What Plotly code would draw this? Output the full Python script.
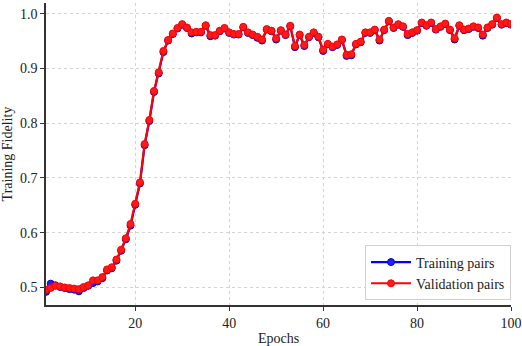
import plotly.graph_objects as go

epochs = list(range(1, 101))

validation = [
    0.496, 0.499, 0.503, 0.502, 0.500, 0.499, 0.498, 0.497, 0.501, 0.504,
    0.513, 0.513, 0.519, 0.533, 0.537, 0.551, 0.569, 0.590, 0.616, 0.653,
    0.692, 0.762, 0.806, 0.859, 0.893, 0.932, 0.952, 0.964, 0.974, 0.981,
    0.975, 0.966, 0.967, 0.967, 0.979, 0.961, 0.961, 0.969, 0.974, 0.966,
    0.963, 0.963, 0.976, 0.966, 0.962, 0.958, 0.953, 0.972, 0.969, 0.955,
    0.970, 0.962, 0.978, 0.941, 0.962, 0.943, 0.958, 0.966, 0.958, 0.934,
    0.945, 0.940, 0.944, 0.953, 0.925, 0.926, 0.945, 0.949, 0.966, 0.966,
    0.971, 0.953, 0.971, 0.987, 0.975, 0.981, 0.977, 0.963, 0.966, 0.970,
    0.984, 0.979, 0.984, 0.972, 0.977, 0.982, 0.971, 0.955, 0.979, 0.971,
    0.973, 0.977, 0.975, 0.962, 0.975, 0.981, 0.993, 0.981, 0.984, 0.981,
]

training = [
    0.492, 0.507, 0.504, 0.501, 0.499, 0.497, 0.496, 0.493, 0.499, 0.503,
    0.508, 0.511, 0.517, 0.531, 0.535, 0.549, 0.567, 0.588, 0.613, 0.651,
    0.690, 0.760, 0.804, 0.857, 0.891, 0.930, 0.951, 0.963, 0.973, 0.980,
    0.974, 0.964, 0.966, 0.966, 0.978, 0.959, 0.960, 0.968, 0.973, 0.965,
    0.962, 0.962, 0.975, 0.965, 0.961, 0.956, 0.951, 0.971, 0.968, 0.953,
    0.969, 0.961, 0.977, 0.939, 0.961, 0.941, 0.957, 0.965, 0.957, 0.932,
    0.944, 0.939, 0.943, 0.952, 0.923, 0.924, 0.944, 0.948, 0.965, 0.965,
    0.970, 0.951, 0.970, 0.986, 0.974, 0.980, 0.976, 0.961, 0.965, 0.969,
    0.983, 0.978, 0.983, 0.971, 0.976, 0.981, 0.970, 0.953, 0.978, 0.970,
    0.972, 0.976, 0.974, 0.960, 0.974, 0.980, 0.992, 0.980, 0.983, 0.980,
]

x_ticks = [20, 40, 60, 80, 100]
y_ticks = [0.5, 0.6, 0.7, 0.8, 0.9, 1.0]

FONT = "Liberation Serif"
TXT = "#222222"

fig = go.Figure()
fig.add_trace(go.Scatter(
    x=epochs, y=training, mode="lines+markers", name="Training pairs",
    line=dict(color="#0000ff", width=2.2),
    marker=dict(symbol="circle", size=7, color="#2020ff",
                line=dict(color="#0000c0", width=1)),
))
fig.add_trace(go.Scatter(
    x=epochs, y=validation, mode="lines+markers", name="Validation pairs",
    line=dict(color="#ff0000", width=2.2),
    marker=dict(symbol="circle", size=7, color="#ff1a1a",
                line=dict(color="#ff0000", width=1)),
))

axis_common = dict(
    showgrid=True, gridcolor="#d4d4d4", griddash="dot", gridwidth=1,
    showline=True, linecolor="#333333", linewidth=1.5,
    ticks="outside", ticklen=4, tickwidth=1, tickcolor="#333333",
    zeroline=False, mirror=False, automargin=False,
    tickfont=dict(family=FONT, size=14, color=TXT),
)

fig.update_layout(
    width=522, height=346,
    margin=dict(l=46, r=11, t=3, b=41),
    paper_bgcolor="white", plot_bgcolor="white",
    font=dict(family=FONT, size=14, color=TXT),
    xaxis=dict(range=[1, 100], tickvals=x_ticks,
               title=dict(text="Epochs", font=dict(family=FONT, size=14, color=TXT), standoff=4),
               **axis_common),
    yaxis=dict(range=[0.468, 1.0196], tickvals=y_ticks, tickformat=".1f",
               title=dict(text="Training Fidelity", font=dict(family=FONT, size=14, color=TXT), standoff=4),
               **axis_common),
    legend=dict(x=1.0, y=0.015, xanchor="right", yanchor="bottom",
                bgcolor="rgba(255,255,255,0.85)", bordercolor="#d0d0d0", borderwidth=1,
                font=dict(family=FONT, size=14, color=TXT),
                itemwidth=40, tracegroupgap=0),
    showlegend=True,
)

fig.write_html("out.html",
               config={"displayModeBar": False},
               post_script="document.body.style.margin='0';document.body.style.overflow='hidden';")
